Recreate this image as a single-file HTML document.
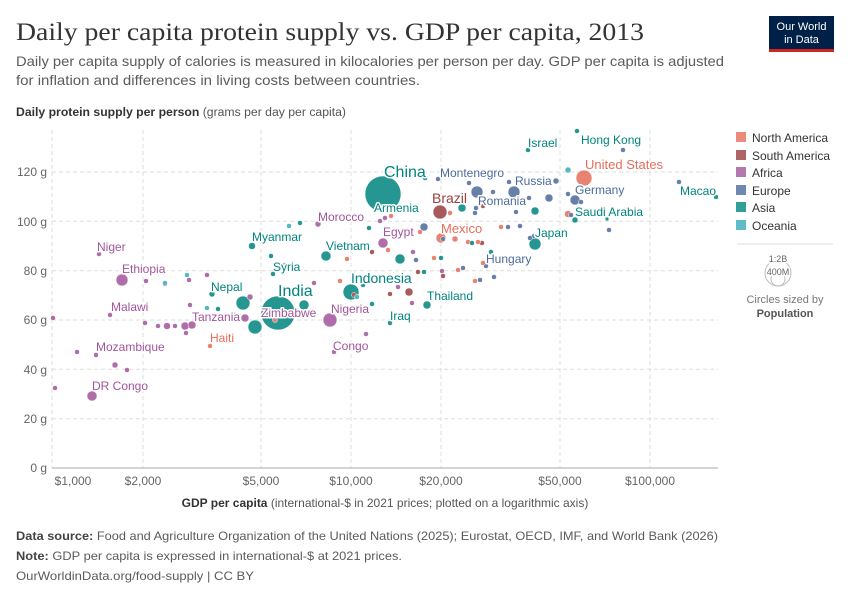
<!DOCTYPE html>
<html><head><meta charset="utf-8"><style>
body{margin:0;background:#fff}
svg{display:block;font-family:"Liberation Sans",sans-serif}
.lb{paint-order:stroke;stroke:#fff;stroke-width:3px;stroke-linejoin:round}
</style></head><body>
<svg id="s" width="850" height="600" viewBox="0 0 850 600" xmlns="http://www.w3.org/2000/svg">
<text x="16" y="40" font-family="Liberation Serif,serif" font-size="25" fill="#333" textLength="628" lengthAdjust="spacingAndGlyphs">Daily per capita protein supply vs. GDP per capita, 2013</text>
<text x="16" y="66" font-size="14" fill="#5b5b5b" textLength="708" lengthAdjust="spacingAndGlyphs">Daily per capita supply of calories is measured in kilocalories per person per day. GDP per capita is adjusted</text>
<text x="16" y="85" font-size="14" fill="#5b5b5b" textLength="404" lengthAdjust="spacingAndGlyphs">for inflation and differences in living costs between countries.</text>
<text x="16" y="116" font-size="11.5" fill="#555" textLength="330" lengthAdjust="spacingAndGlyphs"><tspan font-weight="bold" fill="#333">Daily protein supply per person</tspan> (grams per day per capita)</text>
<rect x="769" y="16" width="65" height="33" fill="#002147"/><rect x="769" y="49" width="65" height="3" fill="#ce261e"/>
<text x="801.5" y="30" font-size="11" fill="#fff" text-anchor="middle">Our World</text>
<text x="801.5" y="43" font-size="11" fill="#fff" text-anchor="middle">in Data</text>
<g stroke="#ddd" stroke-dasharray="4,3" stroke-width="1">
<line x1="52" x2="718" y1="418.7" y2="418.7"/><line x1="52" x2="718" y1="369.3" y2="369.3"/><line x1="52" x2="718" y1="320" y2="320"/><line x1="52" x2="718" y1="270.7" y2="270.7"/><line x1="52" x2="718" y1="221.3" y2="221.3"/><line x1="52" x2="718" y1="172" y2="172"/>
<line x1="143" x2="143" y1="130" y2="468"/><line x1="261" x2="261" y1="130" y2="468"/><line x1="351" x2="351" y1="130" y2="468"/><line x1="441" x2="441" y1="130" y2="468"/><line x1="560" x2="560" y1="130" y2="468"/><line x1="650" x2="650" y1="130" y2="468"/><line x1="52" x2="52" y1="130" y2="468"/>
</g>
<line x1="52" x2="718" y1="468" y2="468" stroke="#aaa"/>
<g font-size="12" fill="#666" text-anchor="end">
<text x="47" y="472">0 g</text><text x="47" y="423">20 g</text><text x="47" y="374">40 g</text><text x="47" y="324">60 g</text><text x="47" y="275">80 g</text><text x="47" y="226">100 g</text><text x="47" y="176">120 g</text>
</g>
<g font-size="12" fill="#666" text-anchor="middle">
<text x="73" y="485">$1,000</text><text x="143" y="485">$2,000</text><text x="261" y="485">$5,000</text><text x="351" y="485">$10,000</text><text x="441" y="485">$20,000</text><text x="560" y="485">$50,000</text><text x="650" y="485">$100,000</text>
</g>
<text x="385" y="507" font-size="12" fill="#555" text-anchor="middle"><tspan font-weight="bold" fill="#333">GDP per capita</tspan> (international-$ in 2021 prices; plotted on a logarithmic axis)</text>
<g id="pts" stroke="#fff" stroke-width="0.5" opacity="0.85"></g>
<g font-size="12" class="lb">
<text x="97" y="251" fill="#a2559c">Niger</text>
<text x="122" y="273" fill="#a2559c">Ethiopia</text>
<text x="111" y="311" fill="#a2559c">Malawi</text>
<text x="96" y="351" fill="#a2559c">Mozambique</text>
<text x="92" y="390" fill="#a2559c">DR Congo</text>
<text x="192" y="321" fill="#a2559c">Tanzania</text>
<text x="210" y="342" fill="#e56e5a">Haiti</text>
<text x="211" y="291" fill="#00847e">Nepal</text>
<text x="252" y="241" fill="#00847e">Myanmar</text>
<text x="273" y="271" fill="#00847e">Syria</text>
<text x="318" y="221" fill="#a2559c">Morocco</text>
<text x="326" y="250" fill="#00847e">Vietnam</text>
<text x="383" y="236" fill="#a2559c">Egypt</text>
<text x="261" y="317" fill="#a2559c">Zimbabwe</text>
<text x="331" y="313" fill="#a2559c">Nigeria</text>
<text x="333" y="350" fill="#a2559c">Congo</text>
<text x="390" y="320" fill="#00847e">Iraq</text>
<text x="427" y="300" fill="#00847e">Thailand</text>
<text x="374" y="212" fill="#00847e">Armenia</text>
<text x="440" y="177" fill="#4c6a9c">Montenegro</text>
<text x="478" y="205" fill="#4c6a9c">Romania</text>
<text x="515" y="185" fill="#4c6a9c">Russia</text>
<text x="441" y="233" fill="#e56e5a" font-size="13">Mexico</text>
<text x="486" y="263" fill="#4c6a9c">Hungary</text>
<text x="535" y="237" fill="#00847e">Japan</text>
<text x="575" y="216" fill="#00847e">Saudi Arabia</text>
<text x="575" y="194" fill="#4c6a9c">Germany</text>
<text x="585" y="169" fill="#e56e5a" font-size="13">United States</text>
<text x="528" y="147" fill="#00847e">Israel</text>
<text x="581" y="144" fill="#00847e">Hong Kong</text>
<text x="680" y="195" fill="#00847e">Macao</text>
<text x="351" y="283" fill="#00847e" font-size="14">Indonesia</text>
<text x="384" y="177" fill="#00847e" font-size="16">China</text>
<text x="278" y="296" fill="#00847e" font-size="16">India</text>
</g>
<g id="pts2" stroke="#fff" stroke-width="0.5" opacity="0.85"></g>
<text x="432" y="203" fill="#9a3f3f" font-size="14" class="lb">Brazil</text>
<g font-size="12" fill="#333">
<rect x="736" y="132" width="10" height="10" fill="#e56e5a" opacity="0.8"/><text x="752" y="142">North America</text>
<rect x="736" y="150" width="10" height="10" fill="#9a3f3f" opacity="0.8"/><text x="752" y="160">South America</text>
<rect x="736" y="167" width="10" height="10" fill="#a2559c" opacity="0.8"/><text x="752" y="177">Africa</text>
<rect x="736" y="185" width="10" height="10" fill="#4c6a9c" opacity="0.8"/><text x="752" y="195">Europe</text>
<rect x="736" y="202" width="10" height="10" fill="#00847e" opacity="0.8"/><text x="752" y="212">Asia</text>
<rect x="736" y="220" width="10" height="10" fill="#38aaba" opacity="0.8"/><text x="752" y="230">Oceania</text>
</g>
<line x1="737" x2="833" y1="244" y2="244" stroke="#ddd"/>
<circle cx="778" cy="273" r="13" fill="none" stroke="#bbb"/><circle cx="778" cy="279" r="7" fill="none" stroke="#bbb"/>
<text x="778" y="262" font-size="9" fill="#666" text-anchor="middle" class="lb">1:2B</text>
<text x="778" y="275" font-size="9" fill="#666" text-anchor="middle" class="lb">400M</text>
<text x="785" y="303" font-size="11" fill="#777" text-anchor="middle">Circles sized by</text>
<text x="785" y="317" font-size="11" fill="#555" font-weight="bold" text-anchor="middle">Population</text>
<text x="16" y="540" font-size="12" fill="#5b5b5b" textLength="702" lengthAdjust="spacingAndGlyphs"><tspan font-weight="bold" fill="#444">Data source:</tspan> Food and Agriculture Organization of the United Nations (2025); Eurostat, OECD, IMF, and World Bank (2026)</text>
<text x="16" y="560" font-size="12" fill="#5b5b5b" textLength="386" lengthAdjust="spacingAndGlyphs"><tspan font-weight="bold" fill="#444">Note:</tspan> GDP per capita is expressed in international-$ at 2021 prices.</text>
<text x="16" y="580" font-size="12" fill="#5b5b5b" textLength="238" lengthAdjust="spacingAndGlyphs">OurWorldinData.org/food-supply | CC BY</text>
</svg>
<script>
var C={N:"#e56e5a",S:"#9a3f3f",A:"#a2559c",E:"#4c6a9c",X:"#00847e",O:"#38aaba"};
var P=[
["X",383,194,18],["X",278,313,17],["A",99,254,2.5],["A",122,280,6],["A",146,281,2.5],["A",165,284,2.5],["A",189,280,2.5],["A",207,275,2.5],["A",110,315,2.5],["A",53,318,2.5],["A",145,323,2.5],["A",158,326,2.5],["A",167,326,3.5],["A",175,326,2.5],["A",185,326,4],["A",192,325,4],["A",186,333,2.5],["A",190,305,2.5],["A",77,352,2.5],["A",96,355,2.5],["A",115,365,3],["A",127,370,2.5],["A",92,396,5],["A",55,388,2.5],["N",210,346,2.5],["X",212,294,3],["X",243,303,7],["A",245,318,4],["X",255,327,7],["A",250,297,3],["X",235,315,2.5],["X",218,309,2.5],["O",165,283,2.5],["O",207,308,2.5],["O",187,275,2.5],
["X",528,150,2.5],["X",577,131,2.5],["E",623,150,2.5],["O",568,170,3],["N",584,178,8],["E",556,181,3],["E",514,192,6],["E",509,182,2.5],["E",493,192,2.5],["E",575,200,5],["E",568,194,2.5],["E",581,202,2.5],["N",568,214,3.5],["E",549,198,4],["X",535,211,4],["E",529,198,2.5],["E",516,199,2.5],["E",516,212,2.5],["E",508,227,2.5],["E",520,226,2.5],["N",501,227,2.5],["E",534,236,2.5],["X",535,244,6],["E",530,238,2.5],["X",491,252,2.5],["E",486,266,2.5],["N",483,263,2.5],["E",494,277,2.5],["E",571,215,2.5],["X",575,220,3],["X",607,219,2],["E",609,230,2.5],["E",679,182,2.5],["X",716,197,2.5],
["X",425,178,2.5],["E",438,179,2.5],["E",469,183,2.5],["E",477,192,6],["X",462,208,4],["E",476,208,2.5],["S",483,206,2.5],["N",450,213,2.5],["E",424,227,4],["N",420,232,2.5],["E",475,213,2.5],["N",441,238,5],["N",455,239,3],["E",443,239,2.5],["S",482,243,2.5],["N",468,242,2.5],["X",472,243,2.5],["N",478,242,2.5],["A",383,243,5],["A",318,224,3],["X",300,223,2.5],["O",289,226,2.5],["A",380,221,2.5],["A",385,218,2.5],["N",391,216,2.5],["X",369,228,2.5],["X",252,246,3.5],["X",326,256,5],["N",347,259,2.5],["S",372,252,2.5],["X",400,259,5],["X",271,256,2.5],["X",273,274,2.5],["A",285,265,2.5],["A",314,283,2.5],["A",413,252,2.5],["E",416,260,2.5],["N",388,250,2.5],
["X",351,292,8],["S",354,295,2.5],["O",357,297,2.5],["N",340,281,2.5],["X",363,285,2.5],["S",390,294,2.5],["S",409,292,4],["A",412,303,2.5],["X",427,305,4],["X",390,323,2.5],["X",372,304,2.5],["X",304,305,5],["N",275,320,2.5],["A",330,320,7],["A",334,352,2.5],["A",366,334,2.5],["S",418,272,2.5],["A",404,280,2.5],["A",398,287,2.5],["X",424,272,2.5],["S",443,276,2.5],["A",442,271,2.5],["N",458,270,2.5],["E",463,268,2.5],["N",434,258,2.5],["X",441,258,2.5],["N",475,281,2.5],["E",480,280,2.5]
];
var h="";
P.sort(function(a,b){return b[3]-a[3]});
P.forEach(function(p){h+='<circle cx="'+p[1]+'" cy="'+p[2]+'" r="'+p[3]+'" fill="'+C[p[0]]+'"/>';});
document.getElementById("pts").innerHTML=h;
document.getElementById("pts2").innerHTML='<circle cx="440" cy="212" r="7" fill="#9a3f3f"/>';
</script>
</body></html>
